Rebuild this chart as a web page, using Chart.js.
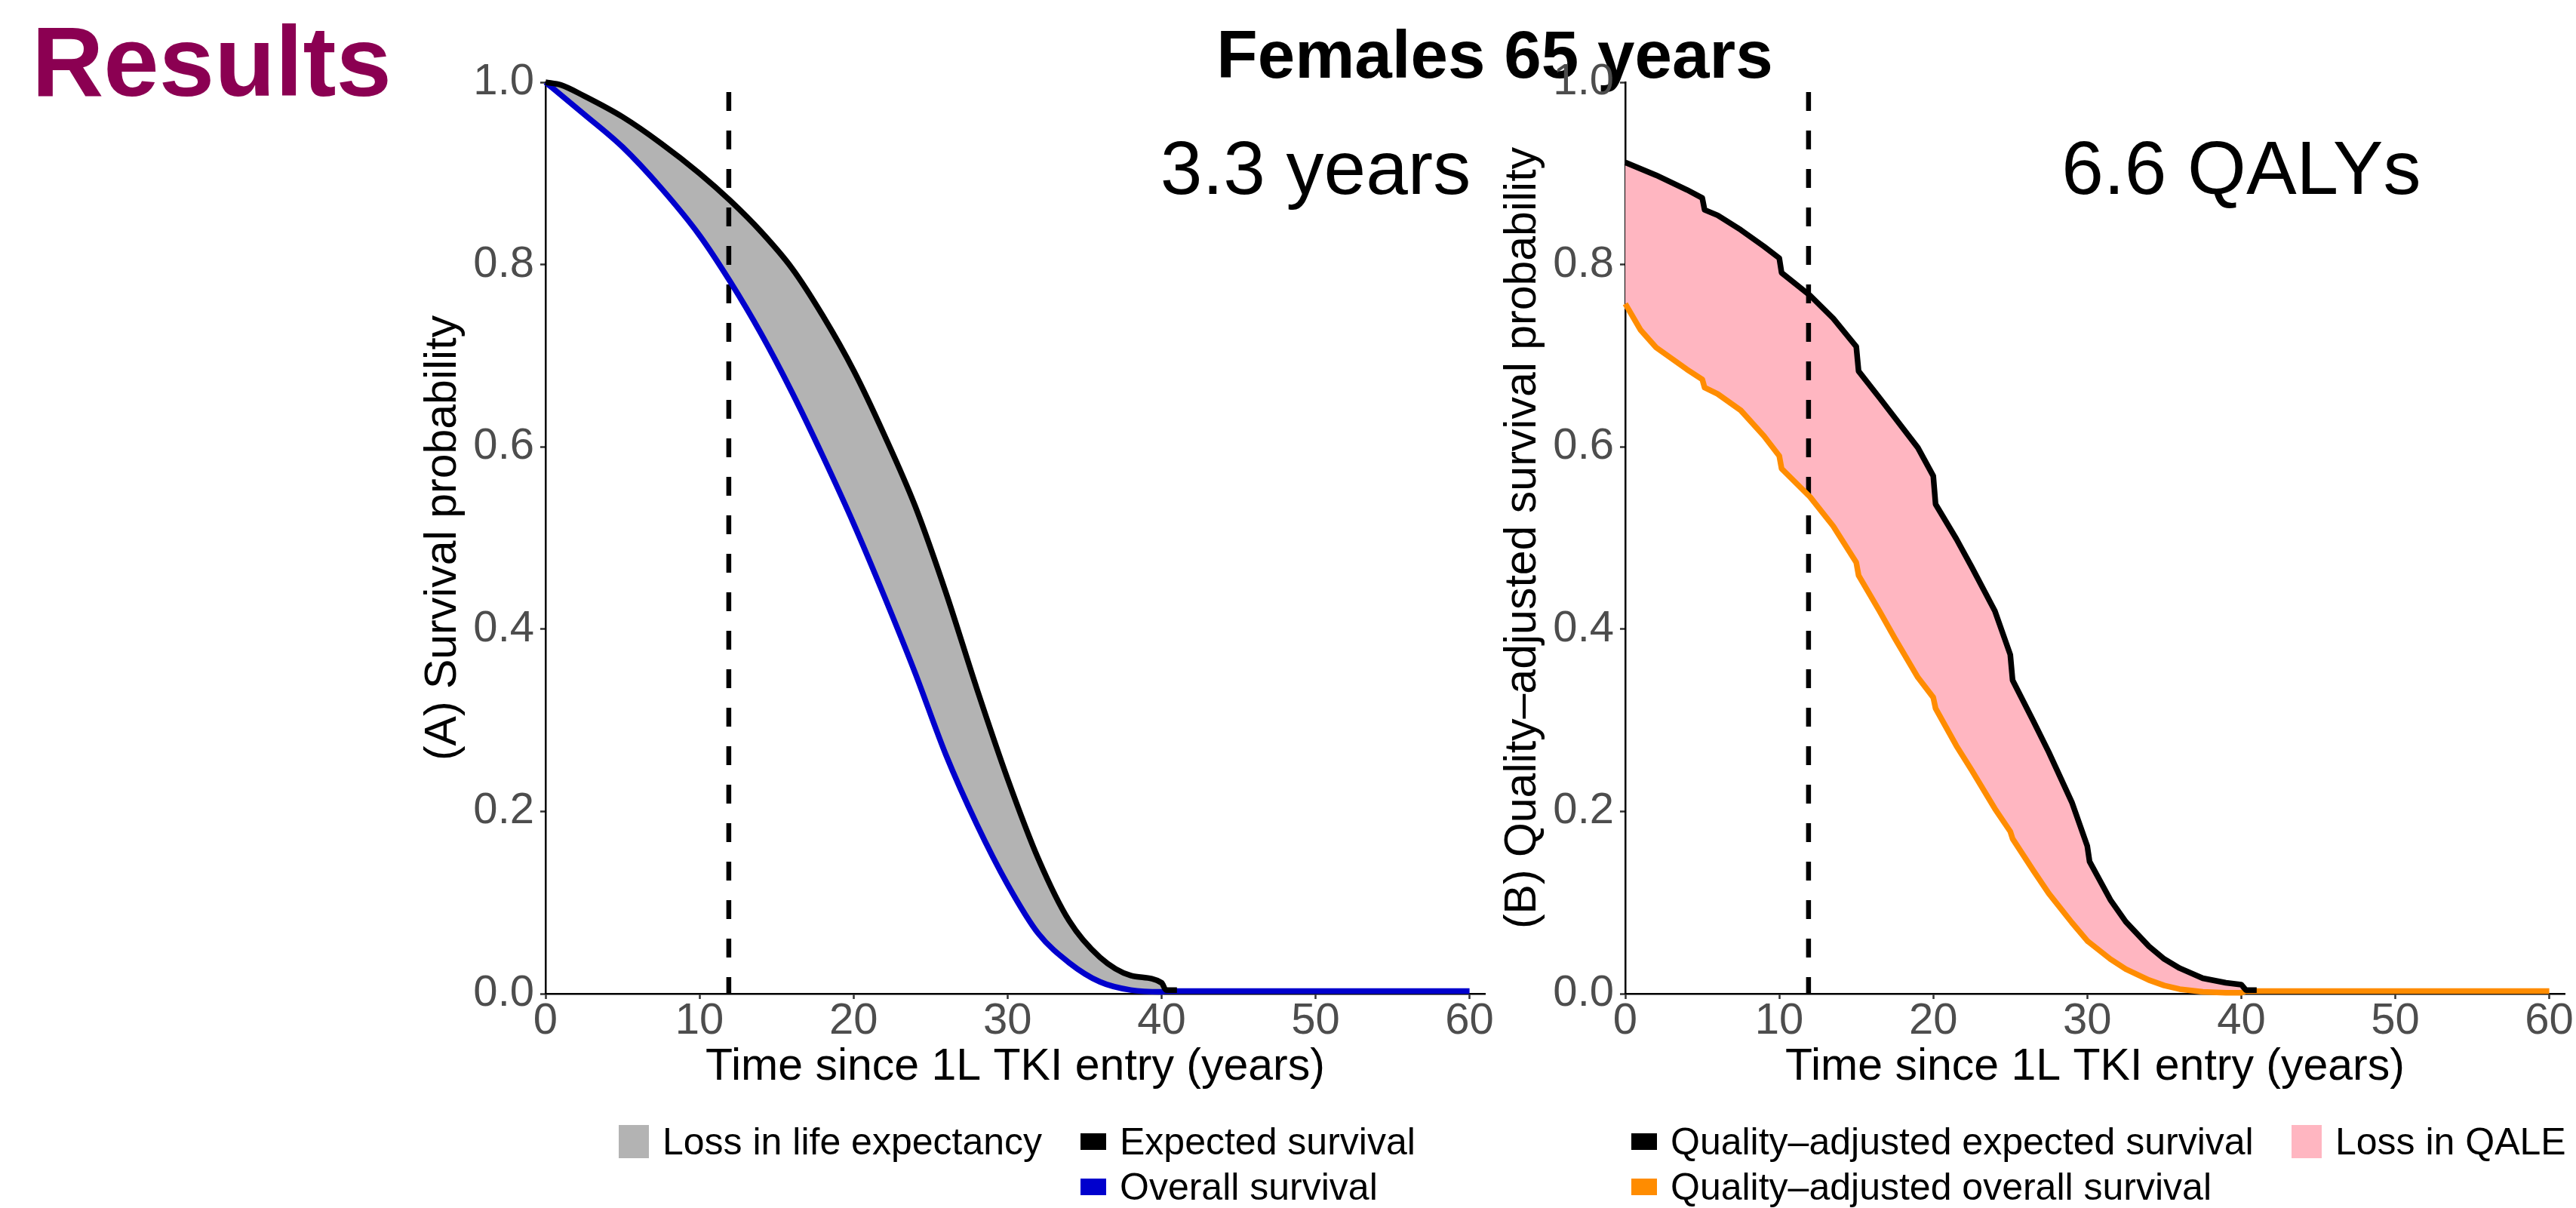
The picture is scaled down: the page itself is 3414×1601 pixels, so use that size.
<!DOCTYPE html>
<html>
<head>
<meta charset="utf-8">
<script src="https://cdn.jsdelivr.net/npm/chart.js@4.4.1/dist/chart.umd.min.js"></script>
<style>
  html, body { margin: 0; padding: 0; background: #fff; overflow: hidden; }
  body { width: 3414px; height: 1601px; position: relative; font-family: "Liberation Sans", Arial, Helvetica, sans-serif; }
  .abs { position: absolute; white-space: nowrap; line-height: 1; }
  canvas { position: absolute; top: 0; }
  #results { left: 42px; top: 16px; font-size: 132px; font-weight: bold; color: #8b0052; }
  #title { left: 1481px; width: 1000px; text-align: center; top: 28px; font-size: 89px; font-weight: bold; color: #000; }
  .leg { font-size: 50px; color: #000; }
  .key { position: absolute; }
</style>
</head>
<body>
<div id="results" class="abs">Results</div>
<div id="title" class="abs">Females 65 years</div>
<canvas id="chartA" width="1551" height="1470" style="left:479px"></canvas>
<canvas id="chartB" width="1504" height="1470" style="left:1910px"></canvas>
<div id="legendA"></div>
<div id="legendB"></div>

<script>
// ---- data ----
const xTicks = [0, 10, 20, 30, 40, 50, 60];
const yTicks = [0, 0.2, 0.4, 0.6, 0.8, 1.0];

// panel A: survival
const yearsA = [0, 1, 2.5, 5, 7.5, 10, 12, 14, 16, 18, 20, 22, 24, 26, 28, 30, 32, 34, 36, 38, 40, 40.3, 41, 45, 50, 55, 60];
const expectedA = [1.000, 0.997, 0.985, 0.962, 0.933, 0.900, 0.870, 0.836, 0.796, 0.744, 0.684, 0.613, 0.535, 0.440, 0.335, 0.236, 0.148, 0.080, 0.040, 0.020, 0.012, 0.004, 0.004, null, null, null, null];
const overallA = [1.000, 0.986, 0.965, 0.929, 0.884, 0.832, 0.781, 0.724, 0.660, 0.590, 0.516, 0.436, 0.352, 0.262, 0.186, 0.120, 0.066, 0.034, 0.013, 0.004, 0.002, 0.003, 0.003, 0.003, 0.003, 0.003, 0.003];

// panel B: quality-adjusted survival
const yearsB = [0, 1, 2, 3, 4, 5, 5.15, 6, 7.5, 9, 10, 10.15, 12, 13.5, 15, 15.15, 16.5, 17.5, 19, 20, 20.15, 21.5, 22.5, 24, 25, 25.15, 26.5, 27.5, 29, 30, 30.15, 31.5, 32.5, 34, 35, 36, 37.5, 39, 40, 40.3, 41, 45, 50, 55, 60];
const qaExpectedB = [0.912, 0.905, 0.898, 0.890, 0.882, 0.873, 0.860, 0.854, 0.838, 0.820, 0.807, 0.791, 0.766, 0.741, 0.710, 0.683, 0.654, 0.632, 0.599, 0.568, 0.537, 0.499, 0.468, 0.420, 0.372, 0.344, 0.299, 0.265, 0.210, 0.162, 0.145, 0.103, 0.079, 0.052, 0.038, 0.028, 0.017, 0.012, 0.010, 0.004, 0.004, null, null, null, null];
const qaOverallB = [0.757, 0.728, 0.709, 0.697, 0.685, 0.674, 0.665, 0.658, 0.640, 0.612, 0.590, 0.576, 0.545, 0.513, 0.473, 0.459, 0.420, 0.390, 0.347, 0.325, 0.313, 0.272, 0.245, 0.203, 0.178, 0.170, 0.135, 0.110, 0.078, 0.058, 0.056, 0.038, 0.027, 0.015, 0.009, 0.005, 0.002, 0.001, 0.001, 0.003, 0.003, 0.003, 0.003, 0.003, 0.003];

// vertical reference line (years) and panel annotations
const refYear = 11.9;
const noteText = ['3.3 years', '6.6 QALYs'];
const noteX = [50, 40];
const noteY = [0.9, 0.9];

// ---- styling ----
const FONT = '"Liberation Sans", Arial, Helvetica, sans-serif';
const BLACK = '#000000';
const BLUE = '#0000cd';
const ORANGE = '#ff8c00';
const GREY = '#b3b3b3';
const PINK = '#ffb6c1';

Chart.defaults.font.family = FONT;
Chart.defaults.animation = false;

const toPts = (xs, ys) => xs.map((x, i) => ({ x: x, y: ys[i] }));

const textNote = {
  id: 'textNote',
  afterDatasetsDraw(chart, args, opts) {
    const { ctx, scales } = chart;
    ctx.save();
    ctx.font = opts.size + 'px ' + FONT;
    ctx.fillStyle = '#000';
    ctx.textAlign = 'center';
    ctx.textBaseline = 'middle';
    ctx.fillText(opts.text, scales.x.getPixelForValue(opts.x), scales.y.getPixelForValue(opts.y));
    ctx.restore();
  }
};

function axisGrid() {
  return { display: true, drawOnChartArea: false, drawTicks: true, tickLength: 7, tickWidth: 2.5, tickColor: '#333333' };
}

function makeChart(id, lines, fillColor, yTitle, note, padRight) {
  const [upperLabel, upperData, upperColor, lowerLabel, lowerData, lowerColor, xs, smooth] = lines;
  const lineBase = { pointRadius: 0, borderWidth: 7.5, clip: false, fill: false, borderJoinStyle: 'round',
    cubicInterpolationMode: smooth ? 'monotone' : 'default', tension: 0 };
  return new Chart(document.getElementById(id), {
    type: 'line',
    data: {
      datasets: [
        Object.assign({}, lineBase, { label: upperLabel, data: toPts(xs, upperData), borderColor: upperColor, order: 1 }),
        Object.assign({}, lineBase, { label: lowerLabel, data: toPts(xs, lowerData), borderColor: lowerColor, order: 2 }),
        { label: 'ref', data: [{ x: refYear, y: 1 }, { x: refYear, y: 0 }], borderColor: BLACK, borderWidth: 6.5,
          borderDash: [25, 26], borderDashOffset: 38, pointRadius: 0, fill: false, order: 3 },
        Object.assign({}, lineBase, { label: 'band', data: toPts(xs, upperData), borderWidth: 0,
          borderColor: 'rgba(0,0,0,0)', backgroundColor: fillColor, fill: 1, order: 4 })
      ]
    },
    options: {
      responsive: false,
      devicePixelRatio: 1,
      layout: { padding: { top: 109, right: padRight, left: 0, bottom: 0 } },
      plugins: {
        legend: { display: false },
        tooltip: { enabled: false },
        filler: { propagate: false },
        textNote: note
      },
      scales: {
        x: {
          type: 'linear', min: 0, max: 61,
          afterBuildTicks: s => { s.ticks = xTicks.map(v => ({ value: v })); },
          afterFit: s => { s.height = 153; s.paddingLeft = 0; s.paddingRight = 0; },
          ticks: { font: { size: 58, lineHeight: 1 }, color: '#4d4d4d', padding: 1, maxRotation: 0, autoSkip: false,
            callback: v => String(v) },
          grid: axisGrid(),
          border: { display: true, color: '#000', width: 2.5 },
          title: { display: true, text: 'Time since 1L TKI entry (years)', font: { size: 59 }, color: '#000',
            padding: { top: 0, bottom: 20 } }
        },
        y: {
          type: 'linear', min: 0, max: 1,
          afterBuildTicks: s => { s.ticks = yTicks.map(v => ({ value: v })); },
          afterFit: s => { s.width = 244; s.paddingTop = 0; s.paddingBottom = 0; },
          ticks: { font: { size: 58, lineHeight: 1 }, color: '#4d4d4d', padding: 8, callback: v => v.toFixed(1) },
          grid: axisGrid(),
          border: { display: true, color: '#000', width: 2.5 },
          title: { display: true, text: yTitle, font: { size: 59 }, color: '#000', padding: { top: 73, bottom: 0 } }
        }
      }
    },
    plugins: [textNote]
  });
}

makeChart('chartA',
  ['Expected survival', expectedA, BLACK, 'Overall survival', overallA, BLUE, yearsA, true],
  GREY, '(A) Survival probability',
  { text: noteText[0], x: noteX[0], y: noteY[0], size: 100 }, 62);

makeChart('chartB',
  ['Quality\u2013adjusted expected survival', qaExpectedB, BLACK, 'Quality\u2013adjusted overall survival', qaOverallB, ORANGE, yearsB, false],
  PINK, '(B) Quality\u2013adjusted survival probability',
  { text: noteText[1], x: noteX[1], y: noteY[1], size: 100 }, 15);

// ---- legends (html) ----
const rowMid = [1513, 1573];
function addLegend(container, items) {
  const el = document.getElementById(container);
  items.forEach(it => {
    const key = document.createElement('div');
    key.className = 'key';
    const w = it.kind === 'box' ? 40 : 34;
    const h = it.kind === 'box' ? 44 : 22;
    key.style.cssText = `left:${it.x}px;top:${rowMid[it.row] - h / 2}px;width:${w}px;height:${h}px;background:${it.color};`;
    el.appendChild(key);
    const txt = document.createElement('div');
    txt.className = 'abs leg';
    txt.textContent = it.label;
    txt.style.left = (it.x + w + 18) + 'px';
    txt.style.top = (rowMid[it.row] + 17 - 42.3) + 'px';
    el.appendChild(txt);
  });
}
addLegend('legendA', [
  { label: 'Loss in life expectancy', color: GREY, kind: 'box', x: 820, row: 0 },
  { label: 'Expected survival', color: BLACK, kind: 'line', x: 1432, row: 0 },
  { label: 'Overall survival', color: BLUE, kind: 'line', x: 1432, row: 1 }
]);
addLegend('legendB', [
  { label: 'Quality\u2013adjusted expected survival', color: BLACK, kind: 'line', x: 2162, row: 0 },
  { label: 'Quality\u2013adjusted overall survival', color: ORANGE, kind: 'line', x: 2162, row: 1 },
  { label: 'Loss in QALE', color: PINK, kind: 'box', x: 3037, row: 0 }
]);
</script>
</body>
</html>
